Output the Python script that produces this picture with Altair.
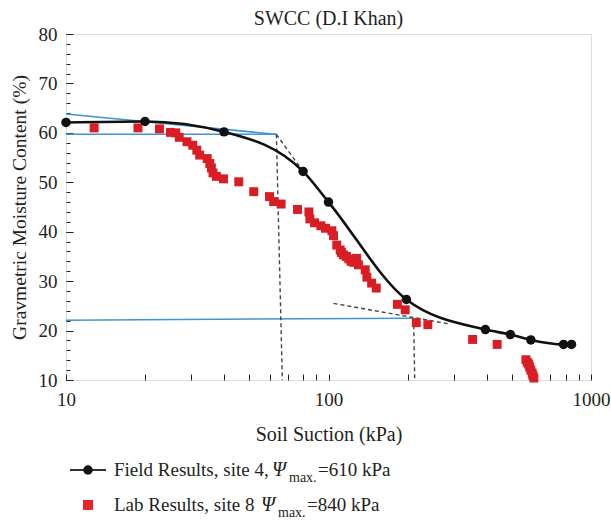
import altair as alt
import pandas as pd

# ---------------- data ----------------
field_suction = [10, 20, 40, 80, 100, 198, 396, 493, 590, 786, 843]
field_moisture = [62.1, 62.3, 60.2, 52.2, 46.0, 26.3, 20.2, 19.2, 18.1, 17.2, 17.2]

lab_suction = [12.8, 18.8, 22.7, 25.0, 26.2, 27.0, 28.9, 30.4, 31.5, 32.3, 34.5, 35.3,
               35.8, 36.3, 37.4, 39.8, 45.5, 51.9, 59.6, 61.8, 66.0, 76.2, 84.2, 84.9,
               88.5, 93.5, 97.4, 103, 104.5, 107.5, 110.8, 112, 114, 117, 119.5, 122,
               125, 128, 130, 138, 140, 146, 152, 183, 196, 216, 239, 354, 439,
               565, 572, 579, 584, 590, 597, 601, 606]
lab_moisture = [61.0, 61.0, 60.8, 60.1, 60.0, 59.1, 58.2, 57.5, 56.5, 55.5, 54.8, 53.8,
                52.9, 51.9, 51.2, 50.7, 50.1, 48.1, 47.1, 46.1, 45.6, 44.5, 44.0, 42.6,
                41.8, 41.2, 40.7, 40.2, 39.2, 37.3, 36.3, 35.8, 35.3, 35.0, 34.5, 34.0,
                33.8, 34.6, 33.3, 32.3, 30.8, 29.6, 28.6, 25.3, 24.2, 21.6, 21.2, 18.2, 17.2,
                14.1, 13.6, 13.2, 12.6, 12.0, 11.4, 10.9, 10.4]

# tangent construction lines (blue)
blue_id = ["t1", "t1", "t2", "t2", "t3", "t3"]
blue_suction = [10, 63.3, 10, 63.3, 10, 211]
blue_moisture = [63.8, 59.7, 59.7, 59.7, 22.1, 22.5]

# dashed construction lines
dash_id = ["d1", "d1", "d2", "d2", "d3", "d3", "d4", "d4"]
dash_suction = [63.3, 66.7, 63.3, 80, 104.5, 292, 211, 213]
dash_moisture = [59.7, 10, 59.7, 52.2, 25.5, 21.3, 22.5, 10]

x_ticks = [10, 20, 30, 40, 50, 60, 70, 80, 90, 100, 200, 300, 400, 500, 600, 700, 800, 900, 1000]
y_major = [10, 20, 30, 40, 50, 60, 70, 80]
y_minor = list(range(10, 81, 2))

field_df = pd.DataFrame({"s": field_suction, "m": field_moisture})
lab_df = pd.DataFrame({"s": lab_suction, "m": lab_moisture})
blue_df = pd.DataFrame({"id": blue_id, "s": blue_suction, "m": blue_moisture})
dash_df = pd.DataFrame({"id": dash_id, "s": dash_suction, "m": dash_moisture})
one = pd.DataFrame({"k": [0]})

FONT = "Liberation Serif"
TXT = "#231f20"

xscale = alt.Scale(type="log", domain=[10, 1000], nice=False)
yscale = alt.Scale(domain=[10, 80], nice=False, zero=False)

xaxis = alt.Axis(values=x_ticks, labelExpr="(datum.value==10||datum.value==100||datum.value==1000) ? format(datum.value,'d') : ''",
                 grid=False, domain=False, tickSize=6, offset=-6, tickColor="#222", tickWidth=1,
                 labelPadding=10, labelFontSize=19, labelFont=FONT, labelColor=TXT,
                 labelFlush=False, labelOverlap=False,
                 title="Soil Suction (kPa)", titleFont=FONT, titleFontSize=20, titleFontWeight="normal",
                 titleColor=TXT, titlePadding=15)
yaxis_main = alt.Axis(values=y_major, format="d", grid=False, domain=False, tickSize=7, offset=-7,
                      tickColor="#222", tickWidth=1, labelPadding=9, labelFontSize=19, labelFont=FONT,
                      labelColor=TXT, labelOverlap=False,
                      title="Gravmetric Moisture Content (%)", titleFont=FONT, titleFontSize=19.5,
                      titleFontWeight="normal", titleColor=TXT, titlePadding=9)
yaxis_minor = alt.Axis(values=y_minor, grid=False, domain=False, labels=False, tickSize=4, offset=-4,
                       tickColor="#222", tickWidth=1, title=None, orient="left")


def X():
    return alt.X("s:Q", scale=xscale, axis=xaxis)


def Y(axis=None):
    return alt.Y("m:Q", scale=yscale, axis=axis)


blue = alt.Chart(blue_df).mark_line(color="#3d95d8", strokeWidth=1.5).encode(
    x=X(), y=Y(yaxis_main), detail="id:N")
dash = alt.Chart(dash_df).mark_line(color="#444", strokeWidth=1.4, strokeDash=[4, 3]).encode(
    x=X(), y=Y(), detail="id:N")
lab = alt.Chart(lab_df).mark_square(color="#d81e24", size=80, opacity=1).encode(
    x=X(), y=Y(yaxis_minor))
fline = alt.Chart(field_df).mark_line(color="#111", strokeWidth=2.6, interpolate="monotone").encode(
    x=X(), y=Y())
fpts = alt.Chart(field_df).mark_circle(color="#111", size=90, opacity=1).encode(
    x=X(), y=Y())

# ---------------- legend (below the plot) ----------------
L1, L2 = 436, 471


def txt(t, x, y, size=19, style="normal"):
    return alt.Chart(one).mark_text(text=t, align="left", baseline="middle", font=FONT,
                                    fontSize=size, fontStyle=style, color=TXT).encode(
        x=alt.value(x), y=alt.value(y))


leg_line = alt.Chart(one).mark_rule(color="#333", strokeWidth=2).encode(
    x=alt.value(4), x2=alt.value(40), y=alt.value(L1))
leg_dot = alt.Chart(one).mark_circle(color="#111", size=90, opacity=1).encode(
    x=alt.value(22), y=alt.value(L1))
leg_sq = alt.Chart(one).mark_square(color="#e8262a", size=100, opacity=1).encode(
    x=alt.value(22), y=alt.value(L2))

legend_layers = [
    leg_line, leg_dot, leg_sq,
    txt("Field Results, site 4, ", 48, L1), txt("Ψ", 206, L1, size=20, style="italic"),
    txt("max.", 223, L1 + 8, size=14), txt("=610 kPa", 252, L1),
    txt("Lab Results, site 8 ", 48, L2), txt("Ψ", 195, L2, size=20, style="italic"),
    txt("max.", 212, L2 + 8, size=14), txt("=840 kPa", 241, L2),
]

chart = alt.layer(blue, dash, lab, fline, fpts, *legend_layers).resolve_axis(
    y="independent"
).properties(
    width=525, height=346,
    title=alt.TitleParams("SWCC (D.I Khan)", font=FONT, fontSize=20, fontWeight="normal",
                          color=TXT, anchor="middle", offset=-4, frame="group"),
    autosize=alt.AutoSizeParams(type="none"),
    padding={"left": 66, "top": 34, "right": 20, "bottom": 140},
).configure_view(stroke="#222", strokeWidth=1.5).configure(background="white")

chart.save("out.html", embed_options={"renderer": "svg", "actions": False})
